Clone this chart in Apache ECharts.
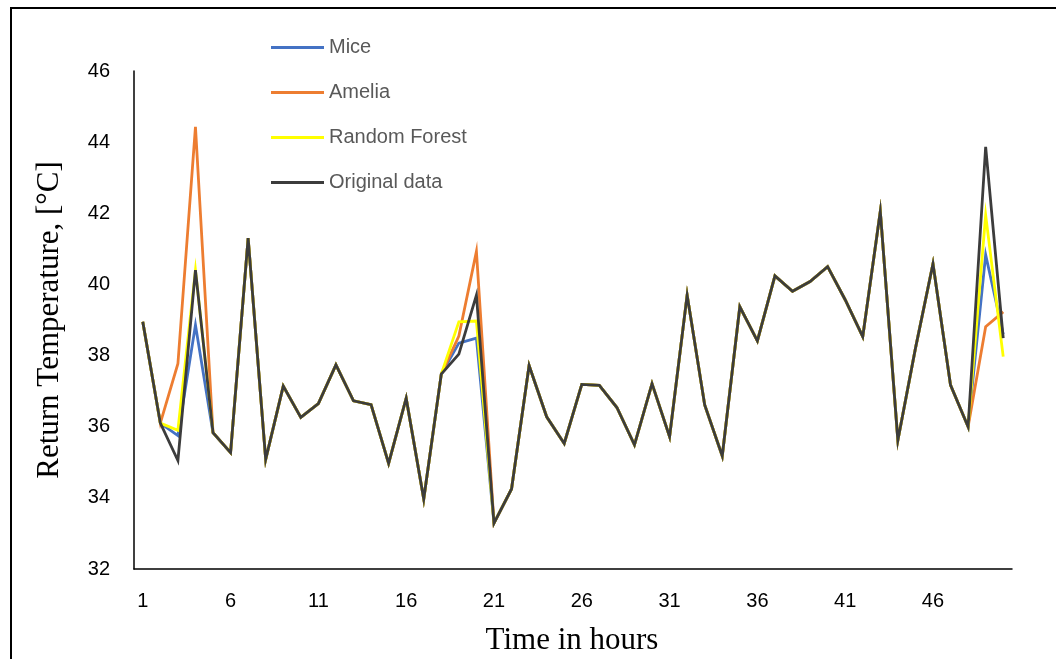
<!DOCTYPE html>
<html>
<head>
<meta charset="utf-8">
<title>Return Temperature</title>
<script src="https://cdn.jsdelivr.net/npm/echarts@6/dist/echarts.min.js"></script>
<style>
  html, body { margin: 0; padding: 0; background: #ffffff; }
  #chart { width: 1061px; height: 659px; }
</style>
</head>
<body>
<div id="chart"></div>
<script>
// Hours 1..50
const hours = Array.from({ length: 50 }, (_, i) => String(i + 1));

// Measured return temperature [°C]
const original = [
  38.95, 36.10, 35.05, 40.40, 35.83, 35.27, 41.30, 35.08, 37.14, 36.26,
  36.65, 37.74, 36.73, 36.62, 34.97, 36.80, 33.97, 37.48, 38.04, 39.70,
  33.29, 34.25, 37.72, 36.28, 35.53, 37.19, 37.16, 36.54, 35.49, 37.21,
  35.72, 39.70, 36.61, 35.18, 39.37, 38.41, 40.24, 39.81, 40.08, 40.50,
  39.57, 38.53, 42.05, 35.62, 38.20, 40.58, 37.17, 36.00, 43.87, 38.49
];

// Imputed series (identical to the measurements outside the gaps)
const mice = [
  38.95, 36.10, 35.75, 38.86, 35.83, 35.27, 41.30, 35.08, 37.14, 36.26,
  36.65, 37.74, 36.73, 36.62, 34.97, 36.80, 33.97, 37.48, 38.35, 38.49,
  33.29, 34.25, 37.72, 36.28, 35.53, 37.19, 37.16, 36.54, 35.49, 37.21,
  35.72, 39.70, 36.61, 35.18, 39.37, 38.41, 40.24, 39.81, 40.08, 40.50,
  39.57, 38.53, 42.05, 35.62, 38.20, 40.58, 37.17, 36.00, 40.83, 38.60
];

const amelia = [
  38.95, 36.10, 37.77, 44.43, 35.83, 35.27, 41.30, 35.08, 37.14, 36.26,
  36.65, 37.74, 36.73, 36.62, 34.97, 36.80, 33.97, 37.48, 38.55, 40.93,
  33.29, 34.25, 37.72, 36.28, 35.53, 37.19, 37.16, 36.54, 35.49, 37.21,
  35.72, 39.70, 36.61, 35.18, 39.37, 38.41, 40.24, 39.81, 40.08, 40.50,
  39.57, 38.53, 42.05, 35.62, 38.20, 40.58, 37.17, 36.00, 38.81, 39.23
];

const randomForest = [
  38.95, 36.10, 35.90, 40.40, 35.83, 35.27, 41.30, 35.08, 37.14, 36.26,
  36.65, 37.74, 36.73, 36.62, 34.97, 36.80, 33.97, 37.48, 38.95, 38.97,
  33.29, 34.25, 37.72, 36.28, 35.53, 37.19, 37.16, 36.54, 35.49, 37.21,
  35.72, 39.70, 36.61, 35.18, 39.37, 38.41, 40.24, 39.81, 40.08, 40.50,
  39.57, 38.53, 42.05, 35.62, 38.20, 40.58, 37.17, 36.00, 41.95, 37.97
];

const seriesNames = ['Mice', 'Amelia', 'Random Forest', 'Original data'];
const seriesColors = ['#4472C4', '#ED7D31', '#FFFF00', '#3C3C3C'];
const seriesData = [mice, amelia, randomForest, original];

const chart = echarts.init(document.getElementById('chart'), null, { renderer: 'canvas' });

const sansFont = '"Liberation Sans", Arial, sans-serif';
const serifFont = '"Liberation Serif", "Times New Roman", serif';

chart.setOption({
  backgroundColor: '#ffffff',
  animation: false,
  grid: { left: 134, right: 49, top: 71, bottom: 90, containLabel: false },
  legend: {
    orient: 'vertical',
    left: 266,
    top: 31,
    icon: 'rect',
    itemWidth: 53,
    itemHeight: 3,
    itemGap: 22,
    data: seriesNames,
    textStyle: { color: '#595959', fontSize: 20, fontFamily: sansFont, lineHeight: 23 }
  },
  xAxis: {
    type: 'category',
    data: hours,
    boundaryGap: true,
    axisLine: { show: true, lineStyle: { color: '#000000', width: 1.5 } },
    axisTick: { show: false },
    axisLabel: {
      interval: 4,
      margin: 22,
      color: '#000000',
      fontSize: 20,
      fontFamily: sansFont
    },
    splitLine: { show: false }
  },
  yAxis: {
    type: 'value',
    min: 32,
    max: 46,
    interval: 2,
    axisLine: { show: true, lineStyle: { color: '#000000', width: 1.5 } },
    axisTick: { show: false },
    axisLabel: {
      margin: 24,
      color: '#000000',
      fontSize: 20,
      fontFamily: sansFont
    },
    splitLine: { show: false }
  },
  series: seriesNames.map((name, i) => ({
    name: name,
    type: 'line',
    data: seriesData[i],
    symbol: 'none',
    smooth: false,
    z: 2 + i,
    lineStyle: { color: seriesColors[i], width: 2.8, join: 'miter' },
    itemStyle: { color: seriesColors[i] }
  })),
  graphic: [
    {
      type: 'text',
      x: 50,
      y: 320,
      rotation: Math.PI / 2,
      style: {
        text: 'Return Temperature, [°C]',
        fill: '#000000',
        font: '31px ' + serifFont,
        align: 'center',
        verticalAlign: 'middle'
      }
    },
    {
      type: 'text',
      x: 572,
      y: 641,
      style: {
        text: 'Time in hours',
        fill: '#000000',
        font: '31px ' + serifFont,
        align: 'center',
        verticalAlign: 'middle'
      }
    },
    {
      type: 'polyline',
      shape: { points: [[11, 659], [11, 8], [1056, 8]] },
      style: { stroke: '#000000', lineWidth: 2, fill: null }
    }
  ]
});
</script>
</body>
</html>
